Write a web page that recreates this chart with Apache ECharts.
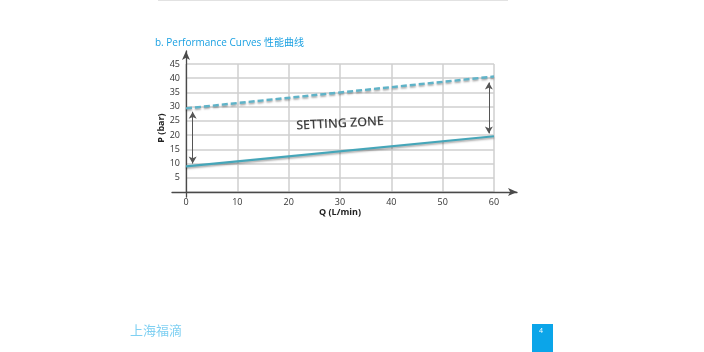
<!DOCTYPE html>
<html><head><meta charset="utf-8">
<script src="https://cdn.jsdelivr.net/npm/echarts@6/dist/echarts.min.js"></script>
<style>html,body{margin:0;padding:0;background:#fff;}#c{width:704px;height:352px;}</style>
</head><body><div id="c"></div>
<script>
var qValues = [0, 60];
var minPressure = [9, 19.6];
var maxPressure = [29.4, 40.6];
var xTicks = [0, 10, 20, 30, 40, 50, 60];
var yTicks = [5, 10, 15, 20, 25, 30, 35, 40, 45];
var leftArrow = {q: 1.3, from: 28.2, to: 10};
var rightArrow = {q: 59, from: 38.5, to: 20.6};
var zoneLabel = {q: 30, p: 24, text: 'SETTING ZONE'};
var titleText = 'b. Performance Curves 性能曲线';
var xName = 'Q (L/min)';
var yName = 'P (bar)';

var chart = echarts.init(document.getElementById('c'), null, {renderer: 'canvas'});
var font = '"Open Sans", "Noto Sans CJK SC", sans-serif';
var lineShadow = {shadowColor: 'rgba(0,0,0,0.35)', shadowBlur: 2, shadowOffsetY: 1.5};

chart.setOption({
  animation: false,
  backgroundColor: '#fff',
  title: [{
    text: titleText, left: 150, top: 33,
    textStyle: {fontFamily: font, fontSize: 10, fontWeight: 'normal', color: '#1ba1e2'}
  }, {
    text: '上海福滴', left: 125, top: 320,
    textStyle: {fontFamily: font, fontSize: 13, fontWeight: 'normal', color: '#7fd0f2'}
  }],
  grid: [
    {left: 186, right: 210, top: 64, bottom: 160},
    {left: 172, right: 187, top: 52, bottom: 160},
    {left: 186, right: 210, top: 51, bottom: 155}
  ],
  xAxis: [{
    gridIndex: 0, type: 'value', min: 0, max: 60, interval: 10,
    name: xName, nameLocation: 'middle', nameGap: 16,
    nameTextStyle: {fontFamily: font, fontSize: 9, fontWeight: 'bold', color: '#222'},
    axisLine: {show: false},
    axisTick: {show: false},
    axisLabel: {fontFamily: font, fontSize: 9, color: '#333', margin: 6,
      formatter: function (v) { return xTicks.indexOf(v) >= 0 ? String(v) : ''; }},
    splitLine: {show: true, lineStyle: {color: '#cfcfcf', width: 1.5}}
  }, {
    gridIndex: 1, type: 'value', min: 0, max: 1,
    axisLine: {show: true, symbol: ['none', 'arrow'], symbolSize: [6, 9], lineStyle: {color: '#4a4a4a', width: 1.3}},
    axisTick: {show: false}, axisLabel: {show: false}, splitLine: {show: false}
  }, {
    gridIndex: 2, type: 'value', min: 0, max: 1, show: false
  }],
  yAxis: [{
    gridIndex: 0, type: 'value', min: 0, max: 45, interval: 5,
    name: yName, nameLocation: 'middle', nameGap: 19, nameRotate: 90,
    nameTextStyle: {fontFamily: font, fontSize: 9, fontWeight: 'bold', color: '#222'},
    axisLine: {show: false}, axisTick: {show: false},
    axisLabel: {fontFamily: font, fontSize: 9, color: '#333', margin: 6,
      formatter: function (v) { return yTicks.indexOf(v) >= 0 ? String(v) : ''; }},
    splitLine: {show: true, lineStyle: {color: '#cfcfcf', width: 1.5}}
  }, {
    gridIndex: 1, type: 'value', min: 0, max: 1, show: false
  }, {
    gridIndex: 2, type: 'value', min: 0, max: 1,
    axisLine: {show: true, symbol: ['none', 'arrow'], symbolSize: [6, 9], lineStyle: {color: '#4a4a4a', width: 1.3}},
    axisTick: {show: false}, axisLabel: {show: false}, splitLine: {show: false}
  }],
  series: [{
    type: 'line', xAxisIndex: 0, yAxisIndex: 0, silent: true,
    data: qValues.map(function (q, i) { return [q, minPressure[i]]; }),
    showSymbol: false,
    lineStyle: Object.assign({color: '#45a6b9', width: 2.2}, lineShadow)
  }, {
    type: 'line', xAxisIndex: 0, yAxisIndex: 0, silent: true,
    data: qValues.map(function (q, i) { return [q, maxPressure[i]]; }),
    showSymbol: false,
    lineStyle: Object.assign({color: '#5fb3c8', width: 2.4, type: [6, 3]}, lineShadow),
    markLine: {
      silent: true, symbol: ['arrow', 'arrow'], symbolSize: [6, 7],
      label: {show: false},
      lineStyle: {color: '#555', width: 1, type: 'solid'},
      data: [
        [{coord: [leftArrow.q, leftArrow.from]}, {coord: [leftArrow.q, leftArrow.to]}],
        [{coord: [rightArrow.q, rightArrow.from]}, {coord: [rightArrow.q, rightArrow.to]}]
      ]
    }
  }, {
    type: 'scatter', xAxisIndex: 0, yAxisIndex: 0, silent: true,
    symbolSize: 0,
    data: [[zoneLabel.q, zoneLabel.p]],
    label: {show: true, position: 'inside', rotate: 3, formatter: zoneLabel.text,
      fontFamily: font, fontSize: 12.5, fontWeight: 600, color: '#111'}
  }],
  graphic: [
    {type: 'line', shape: {x1: 158, y1: 0.5, x2: 508, y2: 0.5}, style: {stroke: '#e2e2e2', lineWidth: 1}},
    {type: 'rect', shape: {x: 532, y: 324, width: 21, height: 28}, style: {fill: '#0ba5e9'}},
    {type: 'text', left: 539, top: 327, style: {text: '4', fill: '#fff', font: '7px ' + font}}
  ]
});
</script></body></html>
